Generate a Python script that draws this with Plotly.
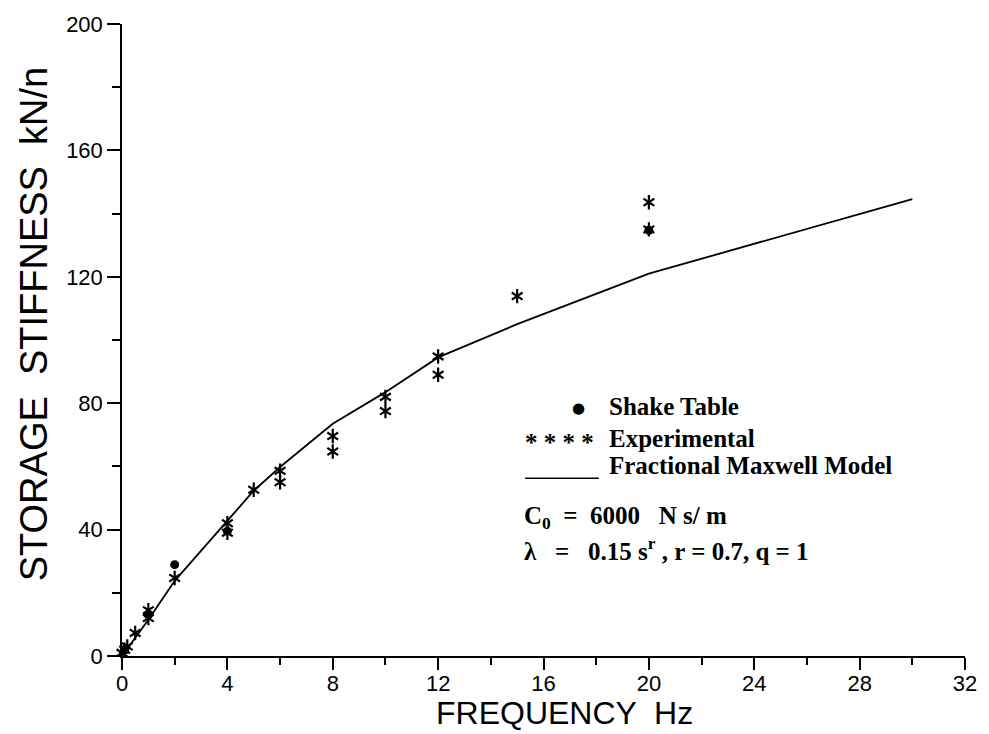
import plotly.graph_objects as go

# Experimental storage stiffness (kN/m) against frequency (Hz)
freq_exp = [0.0, 0.1, 0.2, 0.5, 1.0, 1.0, 2.0, 4.0, 4.0, 5.0, 6.0, 6.0,
            8.0, 8.0, 10.0, 10.0, 12.0, 12.0, 15.0, 20.0, 20.0]
stiff_exp = [1.0, 2.0, 3.0, 7.3, 12.0, 14.5, 24.7, 42.0, 39.0, 52.6, 58.6, 55.0,
             69.6, 64.7, 82.0, 77.5, 94.8, 89.0, 113.9, 143.6, 135.0]

# Shake table measurements
freq_shake = [0.1, 1.0, 2.0, 4.0, 20.0]
stiff_shake = [2.0, 13.0, 28.9, 39.5, 134.7]

# Fractional Maxwell model curve
freq_model = [0.0, 0.5, 1.0, 2.0, 4.0, 5.0, 6.0, 8.0, 10.0, 12.0, 15.0, 20.0, 30.0]
stiff_model = [0.0, 5.8, 11.5, 23.8, 42.8, 52.3, 59.8, 73.5, 83.5, 94.5, 105.0, 121.0, 144.6]

x_ticks = [0, 4, 8, 12, 16, 20, 24, 28, 32]
y_ticks = [0, 40, 80, 120, 160, 200]

W, H = 989, 734
M_L, M_R, M_T, M_B = 122, 22, 20, 78
PW, PH = W - M_L - M_R, H - M_T - M_B


def px(x):
    return (x - M_L) / PW


def py(y):
    return (H - M_B - y) / PH


fig = go.Figure()

fig.add_trace(go.Scatter(
    x=freq_model, y=stiff_model, mode="lines",
    line=dict(color="black", width=1.8), showlegend=False, cliponaxis=False))

fig.add_trace(go.Scatter(
    x=freq_shake, y=stiff_shake, mode="markers",
    marker=dict(symbol="circle", size=9, color="black"),
    showlegend=False, cliponaxis=False))

# six-spoke asterisks built from two three-arm symbols
for sym in ("y-up-open", "y-down-open"):
    fig.add_trace(go.Scatter(
        x=freq_exp, y=stiff_exp, mode="markers",
        marker=dict(symbol=sym, size=9, color="black",
                    line=dict(color="black", width=2.2)),
        showlegend=False, cliponaxis=False))

axis_font = dict(family="Liberation Sans", size=22, color="black")

fig.update_xaxes(
    range=[0, 32], tickmode="array", tickvals=x_ticks,
    ticks="outside", ticklen=12, tickwidth=1.5, tickcolor="black",
    ticklabelstandoff=-5,
    minor=dict(dtick=2, ticks="outside", ticklen=7, tickwidth=1.5, tickcolor="black"),
    showline=True, linecolor="black", linewidth=1.5,
    showgrid=False, zeroline=False, tickfont=axis_font)
fig.update_yaxes(
    range=[0, 200], tickmode="array", tickvals=y_ticks,
    ticks="outside", ticklen=13, tickwidth=1.5, tickcolor="black",
    minor=dict(dtick=20, ticks="outside", ticklen=8, tickwidth=1.5, tickcolor="black"),
    showline=True, linecolor="black", linewidth=1.5,
    showgrid=False, zeroline=False, tickfont=axis_font)

serif = dict(family="Liberation Serif", size=25, color="black", weight="bold")

annotations = [
    dict(x=px(566), y=py(713), text="FREQUENCY  Hz",
         font=dict(family="Liberation Sans", size=32, color="black"),
         xanchor="center", yanchor="middle"),
    dict(x=px(34), y=py(322), text="STORAGE  STIFFNESS  kN/n",
         font=dict(family="Liberation Sans", size=38, color="black"),
         textangle=-90, xanchor="center", yanchor="middle"),
    dict(x=px(580), y=py(406), text="●", font=dict(family="DejaVu Sans", size=15, color="black"),
         xanchor="center", yanchor="middle"),
    dict(x=px(608), y=py(404), text="Shake Table", font=serif,
         xanchor="left", yanchor="middle", height=28),
    dict(x=px(524), y=py(441), text="* * * *", font=serif,
         xanchor="left", yanchor="middle", height=26),
    dict(x=px(608), y=py(437), text="Experimental", font=serif,
         xanchor="left", yanchor="middle", height=27),
    dict(x=px(608), y=py(464), text="Fractional Maxwell Model", font=serif,
         xanchor="left", yanchor="middle", height=27),
    dict(x=px(523), y=py(517), text="C<sub>0</sub>  =  6000   N s/ m", font=serif,
         xanchor="left", yanchor="middle"),
    dict(x=px(523), y=py(548), text="λ   =   0.15 s<sup>r</sup> , r = 0.7, q = 1", font=serif,
         xanchor="left", yanchor="middle"),
]
for a in annotations:
    a.update(xref="paper", yref="paper", showarrow=False)

fig.update_layout(
    width=W, height=H,
    margin=dict(l=M_L, r=M_R, t=M_T, b=M_B),
    paper_bgcolor="white", plot_bgcolor="white",
    annotations=annotations,
    shapes=[dict(type="line", xref="paper", yref="paper",
                 x0=px(526), x1=px(600), y0=py(477), y1=py(477),
                 line=dict(color="black", width=1.5))],
)

fig.write_html("out.html")
